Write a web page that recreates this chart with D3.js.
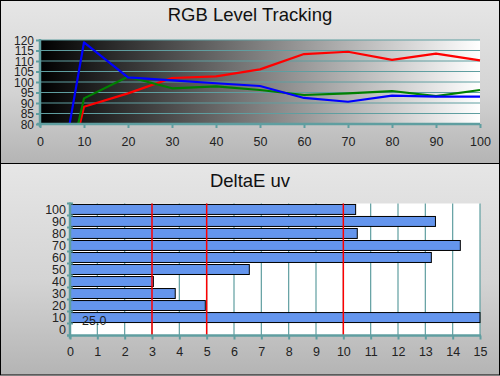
<!DOCTYPE html>
<html>
<head>
<meta charset="utf-8">
<script src="https://cdn.jsdelivr.net/npm/d3@7"></script>
<style>
  body { margin: 0; background: #fff; }
  svg { display: block; font-family: "Liberation Sans", Arial, sans-serif; }
</style>
</head>
<body>
<div id="chart"></div>
<script>
// stimulus levels (% of white) for the tracking chart
const levels = [0, 10, 20, 30, 40, 50, 60, 70, 80, 90, 100];
const redLevel = [0, 88.2, 94.6, 101.9, 102.7, 106.0, 113.3, 114.4, 110.5, 113.5, 110.3];
const greenLevel = [0, 92.2, 102.5, 97.0, 97.9, 96.2, 93.8, 94.6, 95.7, 93.3, 96.2];
const blueLevel = [0, 118.9, 102.2, 100.8, 99.4, 98.1, 92.4, 90.6, 93.5, 93.0, 93.0];
const levelTicks = [80, 85, 90, 95, 100, 105, 110, 115, 120];

// DeltaE uv per stimulus level
const deltaCats = ["0", "10", "20", "30", "40", "50", "60", "70", "80", "90", "100"];
const deltaVals = [0, 25.0, 4.95, 3.85, 3.05, 6.56, 13.22, 14.28, 10.51, 13.37, 10.45];
const deltaLimits = [3, 5, 10];

const W = 500, H = 376;
const teal = "#5f9ea0";

const svg = d3.select("#chart").append("svg")
  .attr("width", W).attr("height", H);

const defs = svg.append("defs");
const panelGrad = defs.append("linearGradient")
  .attr("id", "panelGrad").attr("x1", 0).attr("y1", 0).attr("x2", 0).attr("y2", 1);
panelGrad.append("stop").attr("offset", "0%").attr("stop-color", "#e6e6e6");
panelGrad.append("stop").attr("offset", "55%").attr("stop-color", "#d4d4d4");
panelGrad.append("stop").attr("offset", "100%").attr("stop-color", "#b4b4b4");

const plotGrad = defs.append("linearGradient")
  .attr("id", "plotGrad").attr("x1", 0).attr("y1", 0).attr("x2", 1).attr("y2", 0);
plotGrad.append("stop").attr("offset", "0%").attr("stop-color", "#000");
plotGrad.append("stop").attr("offset", "100%").attr("stop-color", "#fff");

// panels
svg.append("rect").attr("x", 0.5).attr("y", 0.5).attr("width", W - 1).attr("height", 163)
  .attr("fill", "url(#panelGrad)").attr("stroke", "#000");
svg.append("rect").attr("x", 0.5).attr("y", 163.5).attr("width", W - 1).attr("height", H - 164.5)
  .attr("fill", "url(#panelGrad)").attr("stroke", "#000");

svg.append("text").attr("x", 250).attr("y", 21).attr("text-anchor", "middle")
  .attr("font-size", 18.5).attr("fill", "#111").text("RGB Level Tracking");
svg.append("text").attr("x", 250).attr("y", 187).attr("text-anchor", "middle")
  .attr("font-size", 18.5).attr("fill", "#111").text("DeltaE uv");

// ---------- top chart ----------
const area1 = { left: 40, right: 480, top: 40, bottom: 124 };
const x1 = d3.scaleLinear().domain([0, 100]).range([area1.left, area1.right]);
const y1 = d3.scaleLinear().domain([80, 120]).range([area1.bottom, area1.top]);

const g1 = svg.append("g");
g1.append("rect").attr("x", area1.left).attr("y", area1.top)
  .attr("width", area1.right - area1.left).attr("height", area1.bottom - area1.top)
  .attr("fill", "url(#plotGrad)");

g1.selectAll("line.hgrid").data(levelTicks).join("line")
  .attr("class", "hgrid")
  .attr("x1", area1.left).attr("x2", area1.right)
  .attr("y1", d => y1(d)).attr("y2", d => y1(d))
  .attr("stroke", teal).attr("stroke-width", 1);

defs.append("clipPath").attr("id", "clipTop").append("rect")
  .attr("x", area1.left).attr("y", area1.top - 5)
  .attr("width", area1.right - area1.left + 2).attr("height", area1.bottom - area1.top + 5);

const line = d3.line().x((d, i) => x1(levels[i])).y(d => y1(d));
const series = [
  { vals: redLevel, color: "#ff0000" },
  { vals: greenLevel, color: "#008000" },
  { vals: blueLevel, color: "#0000ff" }
];
g1.append("g").attr("clip-path", "url(#clipTop)")
  .selectAll("path").data(series).join("path")
  .attr("d", d => line(d.vals))
  .attr("fill", "none").attr("stroke", d => d.color).attr("stroke-width", 2.2)
  .attr("stroke-linejoin", "round");

const ax1 = g1.append("g").attr("transform", `translate(0,${area1.bottom})`)
  .call(d3.axisBottom(x1).tickValues(levels).tickSize(4).tickPadding(9));
ax1.select(".domain").remove();
ax1.selectAll(".tick line").attr("stroke", teal).attr("stroke-width", 2);
ax1.selectAll("text").attr("font-size", 12.5).attr("fill", "#222");
g1.append("line").attr("x1", area1.left - 3).attr("x2", area1.right)
  .attr("y1", area1.bottom).attr("y2", area1.bottom).attr("stroke", teal).attr("stroke-width", 2.5);

const ay1 = g1.append("g").attr("transform", `translate(${area1.left},0)`)
  .call(d3.axisLeft(y1).tickValues(levelTicks).tickSize(4).tickPadding(2));
ay1.select(".domain").remove();
ay1.selectAll(".tick line").attr("stroke", teal).attr("stroke-width", 2);
ay1.selectAll("text").attr("font-size", 12).attr("dy", "0.34em").attr("fill", "#222");
g1.append("line").attr("x1", area1.left).attr("x2", area1.left)
  .attr("y1", area1.top - 1).attr("y2", area1.bottom + 3).attr("stroke", teal).attr("stroke-width", 2.5);

// ---------- bottom chart ----------
const area2 = { left: 70, right: 480, top: 203.5, bottom: 335.5 };
const x2 = d3.scaleLinear().domain([0, 15]).range([area2.left, area2.right]);
const y2 = d3.scaleBand().domain(deltaCats.slice().reverse())
  .range([area2.top, area2.bottom]).paddingInner(0.17).paddingOuter(0.08);
const bandStep = (area2.bottom - area2.top) / deltaCats.length;

const g2 = svg.append("g");
g2.append("rect").attr("x", area2.left).attr("y", area2.top)
  .attr("width", area2.right - area2.left).attr("height", area2.bottom - area2.top)
  .attr("fill", "#fff");

g2.selectAll("line.vgrid").data(d3.range(1, 16)).join("line")
  .attr("class", "vgrid")
  .attr("x1", d => x2(d)).attr("x2", d => x2(d))
  .attr("y1", area2.top).attr("y2", area2.bottom)
  .attr("stroke", teal).attr("stroke-width", 1.2);

g2.selectAll("rect.bar").data(deltaVals.map((v, i) => ({ cat: deltaCats[i], v })).filter(d => d.v > 0))
  .join("rect")
  .attr("class", "bar")
  .attr("x", x2(0))
  .attr("y", d => y2(d.cat))
  .attr("width", d => x2(Math.min(d.v, 15)) - x2(0))
  .attr("height", y2.bandwidth())
  .attr("fill", "#6495ed").attr("stroke", "#000").attr("stroke-width", 1);

// label for the clipped bar
const clipped = deltaVals.map((v, i) => ({ cat: deltaCats[i], v })).filter(d => d.v > 15);
g2.selectAll("text.over").data(clipped).join("text")
  .attr("class", "over")
  .attr("x", x2(0) + 12).attr("y", d => y2(d.cat) + y2.bandwidth() + 2)
  .attr("font-size", 12.5).attr("fill", "#222")
  .text(d => d.v.toFixed(1));

g2.selectAll("line.limit").data(deltaLimits).join("line")
  .attr("class", "limit")
  .attr("x1", d => x2(d)).attr("x2", d => x2(d))
  .attr("y1", area2.top).attr("y2", area2.bottom)
  .attr("stroke", "#ff0000").attr("stroke-width", 1.5);

const ax2 = g2.append("g").attr("transform", `translate(0,${area2.bottom})`)
  .call(d3.axisBottom(x2).tickValues(d3.range(0, 16)).tickFormat(d3.format("d")).tickSize(4).tickPadding(8));
ax2.select(".domain").remove();
ax2.selectAll(".tick line").attr("stroke", teal).attr("stroke-width", 2);
ax2.selectAll("text").attr("font-size", 12.5).attr("fill", "#222");
g2.append("line").attr("x1", area2.left - 3).attr("x2", area2.right + 1)
  .attr("y1", area2.bottom).attr("y2", area2.bottom).attr("stroke", teal).attr("stroke-width", 2.5);

// category labels centred in bands, ticks at band edges
const ay2 = g2.append("g");
ay2.selectAll("text").data(deltaCats).join("text")
  .attr("x", area2.left - 4)
  .attr("y", d => y2(d) + y2.bandwidth() / 2)
  .attr("dy", "0.36em")
  .attr("text-anchor", "end")
  .attr("font-size", 12.5).attr("fill", "#222")
  .text(d => d);
ay2.selectAll("line").data(d3.range(0, deltaCats.length)).join("line")
  .attr("x1", area2.left - 3).attr("x2", area2.left + 3)
  .attr("y1", d => area2.top + d * bandStep).attr("y2", d => area2.top + d * bandStep)
  .attr("stroke", teal).attr("stroke-width", 2);
g2.append("line").attr("x1", area2.left).attr("x2", area2.left)
  .attr("y1", area2.top - 1).attr("y2", area2.bottom + 3).attr("stroke", teal).attr("stroke-width", 2.5);
</script>
</body>
</html>
